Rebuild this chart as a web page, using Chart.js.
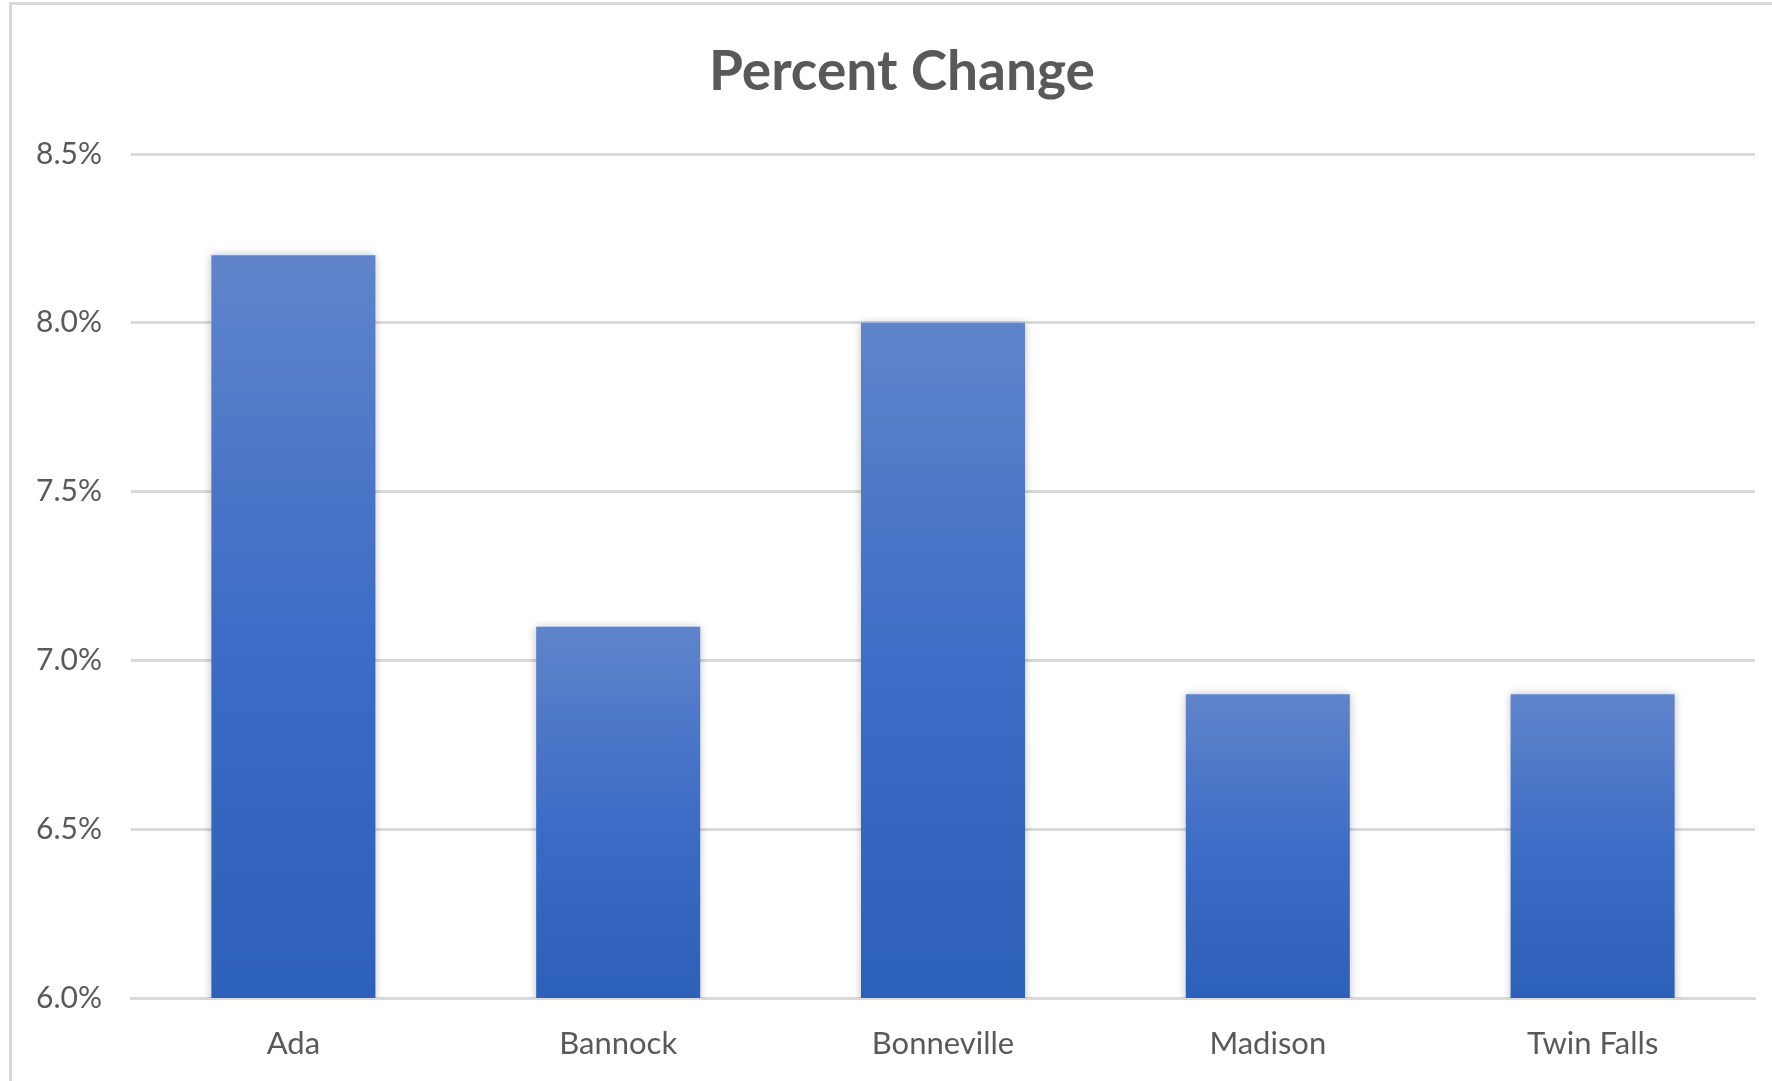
<!DOCTYPE html>
<html>
<head>
<meta charset="utf-8">
<script src="https://cdn.jsdelivr.net/npm/chart.js@4.4.1/dist/chart.umd.min.js"></script>
<style>
  html, body { margin: 0; padding: 0; background: #ffffff; overflow: hidden; width: 1772px; height: 1081px; }
  #frame { position: absolute; left: 9px; top: 2px; border-left: 3px solid #d9d9d9; border-top: 3px solid #d9d9d9; width: 1780px; height: 1076px; }
  #c { display: block; position: absolute; left: 0; top: 0; }
  #title { position: absolute; left: 0; top: 31px; width: 1780px; height: 66px; line-height: 66px; text-align: center;
           font-family: "Lato", sans-serif; font-weight: bold; font-size: 55px; color: #595959; white-space: nowrap; z-index: 2; }
</style>
</head>
<body>
<div id="frame">
  <canvas id="c" width="1780" height="1076"></canvas>
  <div id="title"></div>
</div>
<script>
const categories = ["Ada", "Bannock", "Bonneville", "Madison", "Twin Falls"];
const percentChange = [8.2, 7.1, 8.0, 6.9, 6.9];
const yTicks = [6.0, 6.5, 7.0, 7.5, 8.0, 8.5];
const chartTitle = "Percent Change";

const textColor = "#595959";
const gridColor = "#d9d9d9";

document.getElementById("title").textContent = chartTitle;

function barGradient(ctx) {
  const chart = ctx.chart;
  if (!chart.chartArea || ctx.raw === undefined) return "#3d6dc6";
  const ys = chart.scales.y;
  const top = ys.getPixelForValue(ctx.raw);
  const bottom = ys.getPixelForValue(ys.min);
  const g = chart.ctx.createLinearGradient(0, top, 0, bottom);
  g.addColorStop(0, "#5f84ca");
  g.addColorStop(0.5, "#3d6dc6");
  g.addColorStop(1, "#2d60b8");
  return g;
}

const shadowPlugin = {
  id: "barShadow",
  beforeDatasetsDraw(chart) {
    const c = chart.ctx;
    c.save();
    c.shadowColor = "rgba(0,0,0,0.25)";
    c.shadowBlur = 8;
    c.shadowOffsetX = 0;
    c.shadowOffsetY = 0;
  },
  afterDatasetsDraw(chart) {
    chart.ctx.restore();
  }
};

new Chart(document.getElementById("c"), {
  type: "bar",
  data: {
    labels: categories,
    datasets: [{
      label: chartTitle,
      data: percentChange,
      backgroundColor: barGradient,
      borderWidth: 0,
      categoryPercentage: 1.0,
      barPercentage: 0.505
    }]
  },
  plugins: [shadowPlugin],
  options: {
    responsive: false,
    animation: false,
    devicePixelRatio: 1,
    layout: { padding: { left: 0, right: 37, top: 149, bottom: 0 } },
    plugins: {
      legend: { display: false },
      tooltip: { enabled: false },
      title: { display: false }
    },
    scales: {
      x: {
        offset: true,
        grid: { display: false, drawTicks: false },
        border: { display: true, color: gridColor, width: 3 },
        ticks: {
          color: textColor,
          font: { family: "Lato", size: 31 },
          padding: 27,
          maxRotation: 0
        },
        afterFit(scale) { scale.height = 83; }
      },
      y: {
        min: 6.0,
        max: 8.5,
        afterBuildTicks(scale) { scale.ticks = yTicks.map(v => ({ value: v })); },
        grid: { color: gridColor, lineWidth: 3, drawTicks: false },
        border: { display: false },
        ticks: {
          color: textColor,
          font: { family: "Lato", size: 30 },
          padding: 29,
          callback: v => Number(v).toFixed(1) + "%"
        },
        afterFit(scale) { scale.width = 119; }
      }
    }
  }
});
</script>
</body>
</html>
